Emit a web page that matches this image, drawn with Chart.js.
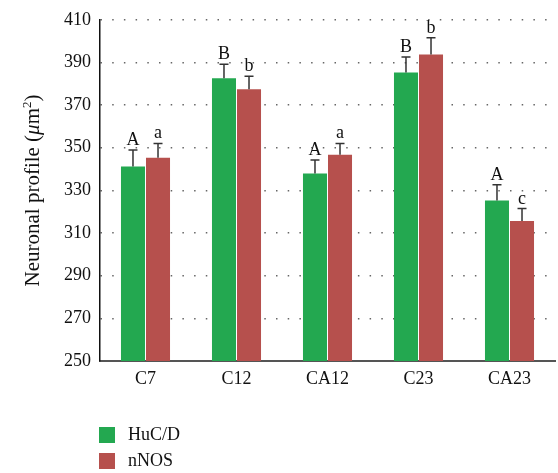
<!DOCTYPE html>
<html>
<head>
<meta charset="utf-8">
<script src="https://cdn.jsdelivr.net/npm/chart.js@4.4.1/dist/chart.umd.min.js"></script>
<style>
  html, body { margin: 0; padding: 0; background: #ffffff; }
  #wrap { width: 558px; height: 473px; position: relative; }
</style>
</head>
<body>
<div id="wrap"><canvas id="chart"></canvas></div>
<script>
// Spinal cord regions and neuronal profile area (µm²), mean + SEM
const regions = ['C7', 'C12', 'CA12', 'C23', 'CA23'];
const hucdMeans = [341.2, 382.6, 337.9, 385.3, 325.3];
const hucdErrors = [7.7, 6.6, 6.4, 7.3, 7.3];
const nnosMeans = [345.3, 377.4, 346.7, 393.7, 315.6];
const nnosErrors = [6.7, 6.1, 5.3, 7.9, 5.9];
const hucdLetters = ['A', 'B', 'A', 'B', 'A'];
const nnosLetters = ['a', 'b', 'a', 'b', 'c'];
const seriesNames = ['HuC/D', 'nNOS'];
const yMin = 250, yMax = 410, yStep = 20;

const SERIF = '"Liberation Serif", "DejaVu Serif", serif';

// Upward error bars with caps, plus significance letters above them
const errorBarPlugin = {
  id: 'errorBars',
  afterDatasetsDraw(chart) {
    const ctx = chart.ctx;
    const yScale = chart.scales.y;
    chart.data.datasets.forEach((ds, di) => {
      const meta = chart.getDatasetMeta(di);
      meta.data.forEach((bar, i) => {
        const top = yScale.getPixelForValue(ds.data[i] + ds.errors[i]);
        ctx.save();
        ctx.strokeStyle = '#333333';
        ctx.lineWidth = 1.5;
        ctx.beginPath();
        ctx.moveTo(bar.x, bar.y);
        ctx.lineTo(bar.x, top);
        ctx.moveTo(bar.x - 4.5, top);
        ctx.lineTo(bar.x + 4.5, top);
        ctx.stroke();
        ctx.fillStyle = '#111111';
        ctx.font = '18px ' + SERIF;
        ctx.textAlign = 'center';
        ctx.textBaseline = 'alphabetic';
        ctx.fillText(ds.letters[i], bar.x, top - 5);
        ctx.restore();
      });
    });
  }
};

// Rotated y-axis title with italic mu and superscript 2
const yTitlePlugin = {
  id: 'yTitle',
  afterDraw(chart) {
    const ctx = chart.ctx;
    const parts = [
      { t: 'Neuronal profile (', f: '21px ' + SERIF, dy: 0 },
      { t: '\u03bc', f: 'italic 21px ' + SERIF, dy: 0 },
      { t: 'm', f: '21px ' + SERIF, dy: 0 },
      { t: '2', f: '13px ' + SERIF, dy: -8 },
      { t: ')', f: '21px ' + SERIF, dy: 0 }
    ];
    ctx.save();
    let total = 0;
    parts.forEach(p => { ctx.font = p.f; p.w = ctx.measureText(p.t).width; total += p.w; });
    ctx.translate(39, 190.5);
    ctx.rotate(-Math.PI / 2);
    ctx.fillStyle = '#111111';
    ctx.textBaseline = 'alphabetic';
    ctx.textAlign = 'left';
    let x = -total / 2;
    parts.forEach(p => { ctx.font = p.f; ctx.fillText(p.t, x, p.dy); x += p.w; });
    ctx.restore();
  }
};

// Vertical legend below the plot
const legendPlugin = {
  id: 'stackedLegend',
  afterDraw(chart) {
    const ctx = chart.ctx;
    ctx.save();
    chart.data.datasets.forEach((ds, i) => {
      const y = 427 + i * 26;
      ctx.fillStyle = ds.backgroundColor;
      ctx.fillRect(99, y, 16, 16);
      ctx.fillStyle = '#111111';
      ctx.font = '18px ' + SERIF;
      ctx.textBaseline = 'middle';
      ctx.textAlign = 'left';
      ctx.fillText(ds.label, 128, y + 8.5);
    });
    ctx.restore();
  }
};

new Chart(document.getElementById('chart'), {
  type: 'bar',
  data: {
    labels: regions,
    datasets: [
      { label: seriesNames[0], data: hucdMeans, errors: hucdErrors, letters: hucdLetters,
        backgroundColor: '#23a850' },
      { label: seriesNames[1], data: nnosMeans, errors: nnosErrors, letters: nnosLetters,
        backgroundColor: '#b6504d' }
    ]
  },
  options: {
    responsive: true,
    maintainAspectRatio: false,
    animation: false,
    events: [],
    layout: { padding: { top: 17, right: 3, bottom: 0, left: 0 } },
    datasets: { bar: { categoryPercentage: 0.55, barPercentage: 0.96 } },
    plugins: { legend: { display: false }, tooltip: { enabled: false }, title: { display: false } },
    scales: {
      x: {
        grid: { display: false, drawTicks: false },
        border: { display: true, color: '#555555', width: 2 },
        ticks: { color: '#111111', padding: 7, font: { family: SERIF, size: 18 } },
        afterFit(scale) { scale.height = 112; }
      },
      y: {
        min: yMin, max: yMax,
        grid: { color: '#666666', lineWidth: 1.5, drawTicks: false },
        border: { display: true, color: '#111111', width: 1.5, dash: [1.5, 10.2] },
        ticks: { stepSize: yStep, color: '#111111', padding: 9, font: { family: SERIF, size: 18 } },
        afterFit(scale) { scale.width = 100; }
      }
    }
  },
  plugins: [errorBarPlugin, yTitlePlugin, legendPlugin]
});
</script>
</body>
</html>
